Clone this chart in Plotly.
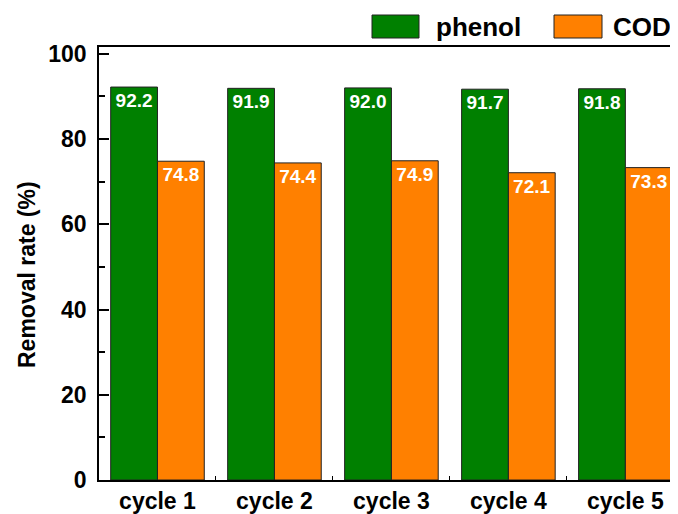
import plotly.graph_objects as go

categories = ["cycle 1", "cycle 2", "cycle 3", "cycle 4", "cycle 5"]
phenol = [92.2, 91.9, 92.0, 91.7, 91.8]
cod = [74.8, 74.4, 74.9, 72.1, 73.3]
series_names = ["phenol", "COD"]
y_title = "Removal rate (%)"

GREEN = "#008000"
ORANGE = "#FF8000"
FONT = "Arial, Liberation Sans, sans-serif"

fig = go.Figure()
for name, vals, col in [(series_names[0], phenol, GREEN), (series_names[1], cod, ORANGE)]:
    fig.add_trace(go.Bar(
        x=categories, y=vals, name=name,
        marker=dict(color=col, line=dict(color="#222222", width=1)),
        text=[f"{v:.1f}" for v in vals],
        textposition="inside", insidetextanchor="end",
        textfont=dict(family=FONT, size=19, color="white", weight="bold"),
        textangle=0, constraintext="none",
        showlegend=False,
    ))

# page has an 8px body margin, so the figure is 8px smaller than the window
OFF = 8
W, H = 678 - OFF, 514 - OFF
L, R, T, B = 99 - OFF, 0, 47 - OFF, 34
pw, ph = W - L - R, H - T - B

def px(x):
    return (x - OFF - L) / pw

def py(y):
    return (H - B - (y - OFF)) / ph

# legend drawn as shapes + text (positions in window pixels)
for (x0, x1, col), (tx, label) in zip(
    [(372, 419, GREEN), (554, 602, ORANGE)],
    [(434, series_names[0]), (611, series_names[1])]):
    fig.add_shape(type="rect", xref="paper", yref="paper",
                  x0=px(x0), x1=px(x1), y0=py(38), y1=py(15),
                  fillcolor=col, line=dict(color="#222222", width=1))
    fig.add_annotation(xref="paper", yref="paper", x=px(tx), y=py(27),
                       text=label, showarrow=False, xanchor="left", yanchor="middle",
                       font=dict(family=FONT, size=26, color="black", weight="bold"))

# y-axis title
fig.add_annotation(xref="paper", yref="paper", x=px(27), y=py(275),
                   text=y_title, textangle=-90, showarrow=False,
                   xanchor="center", yanchor="middle",
                   font=dict(family=FONT, size=23, color="black", weight="bold"))

fig.update_layout(
    width=W, height=H,
    margin=dict(l=L, r=R, t=T, b=B),
    plot_bgcolor="white", paper_bgcolor="white",
    barmode="group", bargap=0.2, bargroupgap=0,
    font=dict(family=FONT, color="black"),
)
fig.update_xaxes(
    range=[-0.5, 4.45], showline=True, linecolor="black", linewidth=1.5,
    mirror=True, ticks="inside", ticklen=4, tickcolor="black", tickson="boundaries",
    tickfont=dict(family=FONT, size=23, color="black", weight="bold"),
    showgrid=False,
)
fig.update_yaxes(
    range=[0, 101.6], showline=True, linecolor="black", linewidth=1.5,
    ticks="inside", ticklen=10, tickcolor="black", tickwidth=1.5,
    tickvals=[0, 20, 40, 60, 80, 100],
    minor=dict(tickvals=[10, 30, 50, 70, 90], ticks="inside", ticklen=6, tickcolor="black"),
    tickfont=dict(family=FONT, size=23, color="black", weight="bold"),
    ticklabelstandoff=6,
    showgrid=False, zeroline=False,
)

fig.write_html("out.html")
